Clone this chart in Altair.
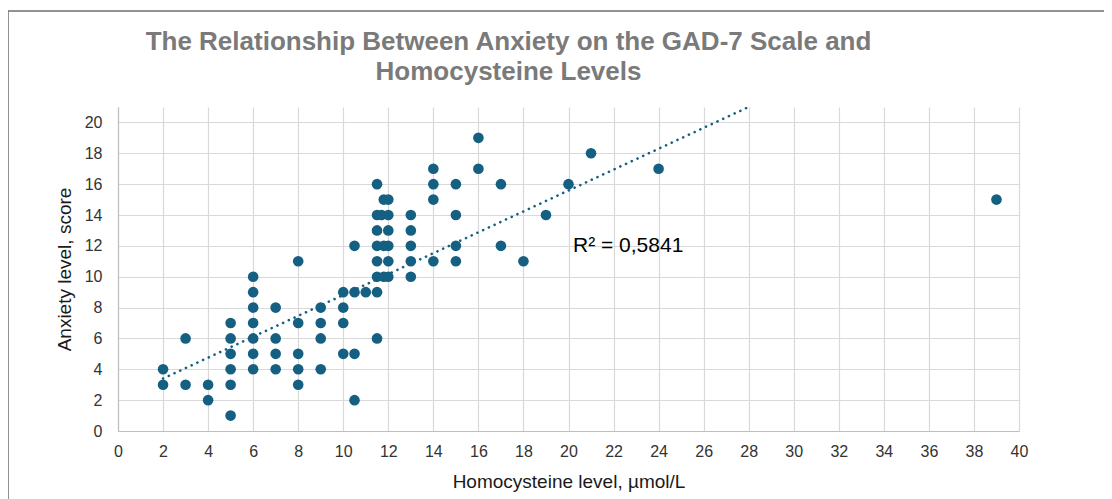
import altair as alt
import pandas as pd

# Homocysteine level (µmol/L) and GAD-7 anxiety score
homocysteine = [
    2, 2,
    3, 3,
    4, 4,
    5, 5, 5, 5, 5, 5,
    6, 6, 6, 6, 6, 6, 6,
    7, 7, 7, 7,
    8, 8, 8, 8, 8,
    9, 9, 9, 9,
    10, 10, 10, 10,
    10.5, 10.5, 10.5, 10.5,
    11,
    11.5, 11.5, 11.5, 11.5, 11.5, 11.5, 11.5, 11.5,
    11.7, 11.8, 11.8, 11.8,
    12, 12, 12, 12, 12, 12,
    13, 13, 13, 13, 13,
    14, 14, 14, 14,
    15, 15, 15, 15,
    16, 16,
    17, 17,
    18, 19, 20, 21, 24, 39,
]
anxiety = [
    4, 3,
    6, 3,
    3, 2,
    7, 6, 5, 4, 3, 1,
    10, 9, 8, 7, 6, 5, 4,
    8, 6, 5, 4,
    11, 7, 5, 4, 3,
    8, 7, 6, 4,
    9, 8, 7, 5,
    12, 9, 5, 2,
    9,
    16, 14, 13, 12, 11, 10, 9, 6,
    14, 15, 12, 10,
    15, 14, 13, 12, 11, 10,
    14, 13, 12, 11, 10,
    17, 16, 15, 11,
    16, 14, 12, 11,
    19, 17,
    16, 12,
    11, 14, 16, 18, 17, 15,
]

# Linear trendline endpoints
trend_x = [2, 39]
trend_y = [3.4, 28.45]

x_ticks = list(range(0, 41, 2))
y_ticks = list(range(0, 21, 2))
r2_label = ["R² = 0,5841"]
r2_pos_x = [20.2]
r2_pos_y = [12]

title_lines = ["The Relationship Between Anxiety on the GAD-7 Scale and",
               "Homocysteine Levels"]

df = pd.DataFrame({"hcy": homocysteine, "anx": anxiety})
tr = pd.DataFrame({"hcy": trend_x, "anx": trend_y})
lab = pd.DataFrame({"hcy": r2_pos_x, "anx": r2_pos_y, "t": r2_label})

COLOR = "#156082"
FONT = "Liberation Sans"

xscale = alt.Scale(domain=[0, 40], nice=False, zero=True)
yscale = alt.Scale(domain=[0, 21], nice=False, zero=True)

xaxis = alt.Axis(values=x_ticks, title="Homocysteine level, µmol/L",
                 labelPadding=12, titlePadding=13, labelFlush=False,
                 labelOverlap=False, tickCount=21)
yaxis = alt.Axis(values=y_ticks, title="Anxiety level, score",
                 labelPadding=16, titlePadding=10, labelFlush=False,
                 labelOverlap=False, tickCount=11)

X = alt.X("hcy:Q", scale=xscale, axis=xaxis)
Y = alt.Y("anx:Q", scale=yscale, axis=yaxis)

points = alt.Chart(df).mark_circle(size=113, opacity=1, color=COLOR).encode(
    x=X, y=Y,
)

trend = alt.Chart(tr).mark_line(color=COLOR, strokeWidth=2.6, strokeDash=[0.1, 6.2],
                                strokeCap="round", clip=True).encode(
    x=X, y=Y,
)

label = alt.Chart(lab).mark_text(align="left", baseline="middle",
                                 fontSize=21, font=FONT, color="#000000").encode(
    x=X, y=Y,
    text="t:N",
)

frame = alt.Chart(lab).mark_rect(fill=None, stroke="#6f6f6f", strokeWidth=1.5,
                                 clip=False).encode(
    x=alt.value(-110), x2=alt.value(1000),
    y=alt.value(-96), y2=alt.value(450),
)

chart = alt.layer(points, trend, label, frame).properties(
    width=901,
    height=324,
    padding={"left": 110, "top": 99, "right": 85, "bottom": 68},
    autosize=alt.AutoSizeParams(type="none"),
    background="white",
    title=alt.TitleParams(
        text=title_lines,
        anchor="middle",
        dx=-60,
        offset=-101,
        baseline="bottom",
        fontSize=26,
        fontWeight="bold",
        font=FONT,
        color="#7a7a7a",
        lineHeight=30,
    ),
).configure_view(stroke=None).configure_axis(
    labelFont=FONT, titleFont=FONT,
    labelFontSize=16, titleFontSize=19,
    labelColor="#333333", titleColor="#1a1a1a",
    titleFontWeight="normal",
    ticks=False,
    domainColor="#bfbfbf", domainWidth=1.2,
    gridColor="#d9d9d9", gridWidth=1.2,
)

chart.save("out.html", embed_options={"renderer": "svg", "actions": False})
